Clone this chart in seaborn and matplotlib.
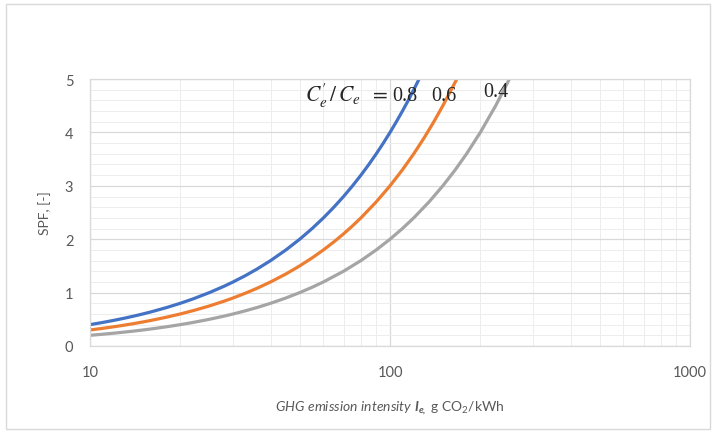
import matplotlib
matplotlib.use("Agg")
import matplotlib.pyplot as plt
from matplotlib.patches import Rectangle
from matplotlib.ticker import LogLocator, MultipleLocator, FixedLocator, NullFormatter
import seaborn as sns
import pandas as pd

# SPF vs. GHG emission intensity for three cost ratios C'_e/C_e
ratio_labels = ["0.8", "0.6", "0.4"]

intensity_08 = [10, 11, 12, 13, 14, 15, 16, 18, 20, 22, 25, 28, 30, 33, 36, 40, 45,
                50, 55, 60, 65, 70, 75, 80, 85, 90, 95, 100, 105, 110, 115, 120, 125]
spf_08 = [0.40, 0.44, 0.48, 0.52, 0.56, 0.60, 0.64, 0.72, 0.80, 0.88, 1.00, 1.12,
          1.20, 1.32, 1.44, 1.60, 1.80, 2.00, 2.20, 2.40, 2.60, 2.80, 3.00, 3.20,
          3.40, 3.60, 3.80, 4.00, 4.20, 4.40, 4.60, 4.80, 5.00]

intensity_06 = [10, 11, 12, 13, 14, 15, 16, 18, 20, 22, 25, 28, 30, 33, 36, 40, 45,
                50, 55, 60, 65, 70, 75, 80, 90, 100, 110, 120, 130, 140, 150, 160, 167]
spf_06 = [0.30, 0.33, 0.36, 0.39, 0.42, 0.45, 0.48, 0.54, 0.60, 0.66, 0.75, 0.84,
          0.90, 0.99, 1.08, 1.20, 1.35, 1.50, 1.65, 1.80, 1.95, 2.10, 2.25, 2.40,
          2.70, 3.00, 3.30, 3.60, 3.90, 4.20, 4.50, 4.80, 5.00]

intensity_04 = [10, 11, 12, 13, 14, 15, 16, 18, 20, 22, 25, 28, 30, 33, 36, 40, 45,
                50, 55, 60, 70, 80, 90, 100, 110, 120, 135, 150, 165, 180, 200, 225, 250]
spf_04 = [0.20, 0.22, 0.24, 0.26, 0.28, 0.30, 0.32, 0.36, 0.40, 0.44, 0.50, 0.56,
          0.60, 0.66, 0.72, 0.80, 0.90, 1.00, 1.10, 1.20, 1.40, 1.60, 1.80, 2.00,
          2.20, 2.40, 2.70, 3.00, 3.30, 3.60, 4.00, 4.50, 5.00]

x_ticks = [10, 100, 1000]
y_ticks = [0, 1, 2, 3, 4, 5]

frames = []
for lab, xs, ys in zip(ratio_labels,
                       [intensity_08, intensity_06, intensity_04],
                       [spf_08, spf_06, spf_04]):
    frames.append(pd.DataFrame({"intensity": xs, "spf": ys, "ratio": lab}))
df = pd.concat(frames, ignore_index=True)

sns.set_theme(style="white")
plt.rcParams["font.family"] = ["Lato", "DejaVu Sans"]
plt.rcParams["mathtext.fontset"] = "custom"
plt.rcParams["mathtext.rm"] = "Lato"
plt.rcParams["mathtext.it"] = "Lato:italic"
plt.rcParams["mathtext.bf"] = "Lato:bold:italic"

fig = plt.figure(figsize=(7.16, 4.35), dpi=100)
fig.patch.set_facecolor("white")
# outer chart frame
fig.patches.append(Rectangle((0.008, 0.012), 0.984, 0.976, transform=fig.transFigure,
                             fill=False, edgecolor="#D9D9D9", linewidth=1.0))

ax = fig.add_axes([0.1257, 0.2023, 0.8380, 0.6137])

palette = {"0.8": "#4472C4", "0.6": "#ED7D31", "0.4": "#A5A5A5"}
sns.lineplot(data=df, x="intensity", y="spf", hue="ratio", palette=palette,
             linewidth=2.3, legend=False, ax=ax, sort=True, estimator=None)

ax.set_xscale("log")
ax.set_xlim(10, 1000)
ax.set_ylim(0, 5)
ax.xaxis.set_major_locator(FixedLocator(x_ticks))
ax.set_xticklabels([str(t) for t in x_ticks])
ax.xaxis.set_minor_locator(LogLocator(base=10, subs=range(2, 10)))
ax.xaxis.set_minor_formatter(NullFormatter())
ax.yaxis.set_major_locator(FixedLocator(y_ticks))
ax.set_yticklabels([str(t) for t in y_ticks])
ax.yaxis.set_minor_locator(MultipleLocator(0.2))

ax.grid(which="major", color="#D9D9D9", linewidth=0.9)
ax.grid(which="minor", color="#EDEDED", linewidth=0.7)
ax.set_axisbelow(True)
for sp in ax.spines.values():
    sp.set_color("#D9D9D9")
    sp.set_linewidth(0.9)

ax.tick_params(which="both", length=0, labelsize=10.5, labelcolor="#595959")
ax.tick_params(axis="x", pad=14)
ax.tick_params(axis="y", pad=12)

ax.set_ylabel("SPF, [-]", fontsize=10, color="#595959", labelpad=10)
ax.set_xlabel(r"$\mathit{GHG\ emission\ intensity}\ \mathbf{I_{e,}}$ g CO$_2$/kWh",
              fontsize=10, color="#595959", labelpad=14)

# curve labels
ax.text(52, 4.70, r"$C^{\prime}_{e}\,/\,C_{e}\;\;=$", fontsize=15.5, color="#262626",
        math_fontfamily="stix", ha="left", va="center")
ax.text(102, 4.70, "0.8", fontsize=14.5, color="#262626",
        family="Liberation Serif", ha="left", va="center")
ax.text(137, 4.70, "0.6", fontsize=14.5, color="#262626",
        family="Liberation Serif", ha="left", va="center")
ax.text(205, 4.76, "0.4", fontsize=14.5, color="#262626",
        family="Liberation Serif", ha="left", va="center")

fig.savefig("out.png", dpi=100, facecolor="white")
